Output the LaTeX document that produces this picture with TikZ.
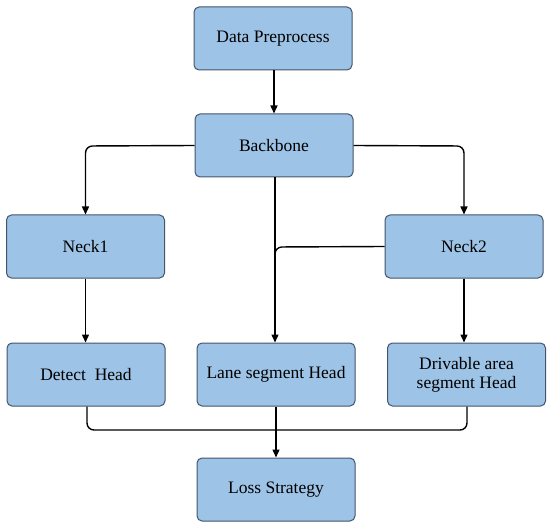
\documentclass[tikz,border=0pt]{standalone}
\usepackage{fontspec}
\setmainfont{Liberation Serif}
\usetikzlibrary{arrows.meta}
\definecolor{boxfill}{HTML}{9DC3E6}
\definecolor{boxline}{HTML}{44546A}
\begin{document}
\begin{tikzpicture}[x=1pt,y=-1pt,
  blk/.style={draw=boxline,fill=boxfill,line width=1pt,rounded corners=5pt,
    minimum width=158pt,minimum height=63pt,inner sep=0pt,align=center,
    font=\rmfamily\fontsize{17.5}{20}\selectfont},
  conn/.style={line width=1.4pt,rounded corners=7pt},
  arr/.style={conn,-{Triangle[width=7pt,length=8pt]}}]
\useasboundingbox (0,0) rectangle (550,527);
\node[blk] (dp) at (273,38.5) {Data Preprocess};
\node[blk] (bb) at (274,145.5) {Backbone};
\node[blk] (n1) at (85.5,246.5) {Neck1};
\node[blk] (n2) at (464,246.5) {Neck2};
\node[blk] (dh) at (86,374.5) {Detect\ \ Head};
\node[blk] (lh) at (276,374.5) {Lane segment Head};
\node[blk] (vh) at (466.5,374.5) {Drivable area\\[-1pt]segment Head};
\node[blk] (ls) at (276,489.5) {Loss Strategy};
\coordinate (bl) at (85.5,146);
\coordinate (br) at (464,146);
\coordinate (jn) at (275,247);
\coordinate (jd) at (275,262);
\coordinate (dl) at (87,430);
\coordinate (dr) at (467,430);
\draw[arr] (dp.south -| 274,0) -- (bb.north -| 274,0);
\draw[arr] (bb.west) -- (bl) -- (n1.north);
\draw[arr] (bb.east) -- (br) -- (n2.north);
\draw[arr] (bb.south -| jn) -- (lh.north -| jn);
\draw[conn] (n2.west) -- (jn) -- (jd);
\draw[arr] (n1.south) -- (n1.south |- dh.north);
\draw[arr] (n2.south) -- (n2.south |- vh.north);
\draw[conn] (dh.south -| dl) -- (dl) -- (dr) -- (vh.south -| dr);
\draw[arr] (lh.south) -- (ls.north);
\end{tikzpicture}
\end{document}
